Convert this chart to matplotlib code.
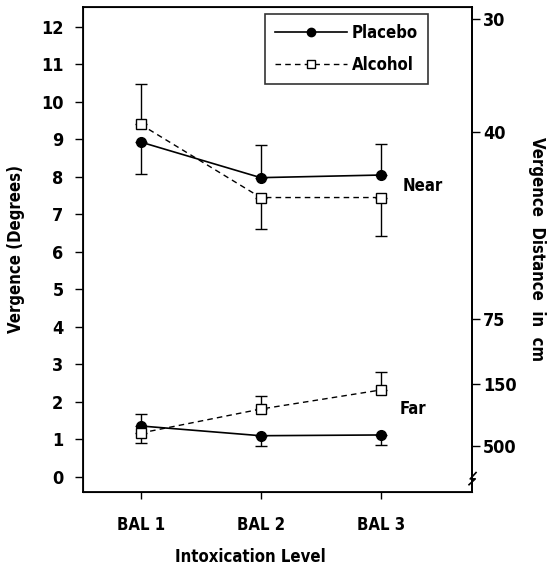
import matplotlib.pyplot as plt
from matplotlib.lines import Line2D

plt.rcParams['font.family'] = ['DejaVu Sans']
plt.rcParams['font.stretch'] = 'condensed'

levels = ['BAL 1', 'BAL 2', 'BAL 3']
xpos = [1, 2, 3]

# near condition
placebo_near = [8.93, 7.98, 8.05]
alcohol_near = [9.40, 7.45, 7.45]
placebo_near_lo = [0.85, 0.0, 0.0]
placebo_near_hi = [0.0, 0.87, 0.83]
alcohol_near_lo = [0.0, 0.84, 1.02]
alcohol_near_hi = [1.08, 0.0, 0.0]

# far condition
placebo_far = [1.36, 1.10, 1.12]
alcohol_far = [1.17, 1.81, 2.32]
placebo_far_lo = [0.0, 0.27, 0.27]
placebo_far_hi = [0.32, 0.0, 0.0]
alcohol_far_lo = [0.27, 0.0, 0.0]
alcohol_far_hi = [0.0, 0.35, 0.48]

# right axis: distance labels at their vergence positions
dist_labels = ['30', '40', '75', '150', '500']
dist_pos = [12.2, 9.2, 4.2, 2.48, 0.83]

fig = plt.figure(figsize=(5.49, 5.73), dpi=100)
ax = fig.add_axes([0.151, 0.1414, 0.709, 0.8464])

pl = dict(color='black', lw=1.2, marker='o', ms=7, mfc='black', mec='black')
al = dict(color='black', lw=1.0, ls=(0, (4, 3)), marker='s', ms=7, mfc='white', mec='black', mew=1.0)
eb = dict(ecolor='black', elinewidth=1.0, capsize=4, capthick=1.0)

ax.errorbar(xpos, placebo_near, yerr=[placebo_near_lo, placebo_near_hi], zorder=3, **pl, **eb)
ax.errorbar(xpos, alcohol_near, yerr=[alcohol_near_lo, alcohol_near_hi], zorder=4, **al, **eb)
ax.errorbar(xpos, placebo_far, yerr=[placebo_far_lo, placebo_far_hi], zorder=3, **pl, **eb)
ax.errorbar(xpos, alcohol_far, yerr=[alcohol_far_lo, alcohol_far_hi], zorder=4, **al, **eb)

ax.text(3.18, 7.75, 'Near', fontsize=12, fontweight='bold', va='center')
ax.text(3.16, 1.8, 'Far', fontsize=12, fontweight='bold', va='center')

ax.set_xlim(0.52, 3.76)
ax.set_ylim(-0.4, 12.53)
ax.set_xticks(xpos)
ax.set_xticklabels(levels, fontsize=12, fontweight='bold')
ax.set_yticks(range(13))
ax.set_yticklabels([str(i) for i in range(13)], fontsize=13, fontweight='bold')
ax.tick_params(axis='both', direction='out', length=6, width=1, colors='black')
ax.tick_params(axis='x', length=5, pad=12)
ax.tick_params(axis='y', pad=8)

ax.set_ylabel('Vergence (Degrees)', fontsize=12, fontweight='bold')
ax.yaxis.set_label_coords(-0.15, 0.5)
ax.set_xlabel('Intoxication Level', fontsize=12, fontweight='bold')
ax.xaxis.set_label_coords(0.43, -0.115)

for s in ax.spines.values():
    s.set_linewidth(1.3)

ax2 = ax.twinx()
ax2.set_ylim(ax.get_ylim())
ax2.set_yticks(dist_pos)
ax2.set_yticklabels(dist_labels, fontsize=13, fontweight='bold')
ax2.tick_params(axis='y', direction='out', length=6, width=1, pad=2)
ax2.set_ylabel('Vergence  Distance  in  cm', fontsize=12, fontweight='bold', rotation=270)
ax2.yaxis.set_label_coords(1.19, 0.5)
ax2.spines['right'].set_linewidth(1.3)

# axis break mark on the right spine
ax2.plot([0.992, 1.008, 0.995, 1.01], [0.015, 0.027, 0.027, 0.04], transform=ax2.transAxes,
         color='black', lw=1.2, clip_on=False)

handles = [
    Line2D([], [], color='black', lw=1.2, marker='o', ms=6, mfc='black', mec='black'),
    Line2D([], [], color='black', lw=1.0, ls=(0, (4, 3)), marker='s', ms=6, mfc='white', mec='black'),
]
leg = ax2.legend(handles, ['Placebo', 'Alcohol'], loc='upper right', bbox_to_anchor=(0.887, 0.986),
                 borderaxespad=0, frameon=True, fancybox=False, edgecolor='black', handlelength=4.3,
                 borderpad=0.6, handletextpad=0.3, labelspacing=0.85, prop={'weight': 'bold', 'size': 12})
leg.get_frame().set_linewidth(1.2)

fig.savefig('out.png', dpi=100)
